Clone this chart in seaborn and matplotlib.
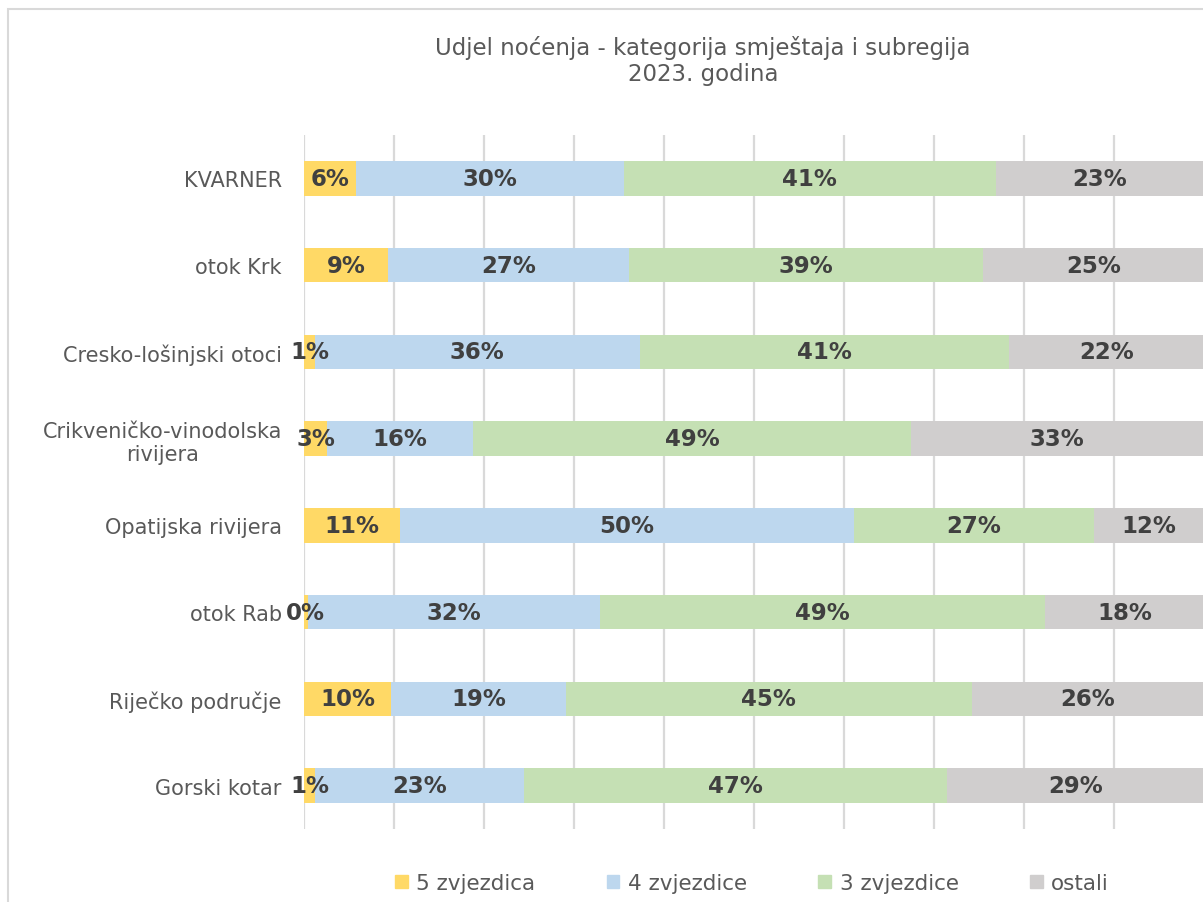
import numpy as np
import pandas as pd
import matplotlib
matplotlib.use("Agg")
import matplotlib.pyplot as plt
import matplotlib.patches as mpatches
import seaborn as sns

# -------------------------------
# Data (share of overnight stays, %)
# -------------------------------
regions = [
    "KVARNER",
    "otok Krk",
    "Cresko-lošinjski otoci",
    "Crikveničko-vinodolska\nrivijera",
    "Opatijska rivijera",
    "otok Rab",
    "Riječko područje",
    "Gorski kotar",
]
categories = ["5 zvjezdica", "4 zvjezdice", "3 zvjezdice", "ostali"]

five_star = [5.8, 9.3, 1.2, 2.6, 10.7, 0.4, 9.7, 1.2]
four_star = [29.7, 26.8, 36.1, 16.2, 50.4, 32.5, 19.4, 23.2]
three_star = [41.4, 39.3, 41.0, 48.6, 26.7, 49.4, 45.1, 47.0]
other = [23.1, 24.6, 21.7, 32.6, 12.2, 17.7, 25.8, 28.6]

colors = ["#FFD966", "#BDD7EE", "#C5E0B4", "#D0CECE"]

df = pd.DataFrame(
    {"region": regions, categories[0]: five_star, categories[1]: four_star,
     categories[2]: three_star, categories[3]: other}
)
cum = df[categories].cumsum(axis=1)

# -------------------------------
# Figure
# -------------------------------
sns.set_theme(style="white")
plt.rcParams["font.family"] = ["DejaVu Sans"]

W, H = 1203, 903
fig = plt.figure(figsize=(W / 100, H / 100), dpi=100)
ax = fig.add_axes([304 / W, 1 - 830 / H, 900 / W, 694 / H])

# stacked bars: draw cumulative totals from the back to the front
for cat, col in reversed(list(zip(categories, colors))):
    sns.barplot(x=cum[cat], y=df["region"], orient="h", color=col,
                width=0.4, saturation=1, linewidth=0, ax=ax, zorder=2)

# data labels
for i in range(len(regions)):
    left = 0
    for cat in categories:
        v = df.loc[i, cat]
        ax.text(left + v / 2, i, f"{v:.0f}%", ha="center", va="center",
                fontsize=16.5, fontweight="bold", color="#404040", zorder=5,
                clip_on=False)
        left += v

ax.set_xlim(0, 100)
ax.set_ylim(len(regions) - 0.5, -0.5)
ax.set_xticks(np.arange(0, 101, 10))
ax.set_xticklabels([])
ax.xaxis.grid(True, color="#D9D9D9", linewidth=1.6, zorder=0)
ax.set_axisbelow(True)
ax.set_xlabel("")
ax.set_ylabel("")
for s in ax.spines.values():
    s.set_visible(False)
ax.tick_params(axis="y", length=0, pad=16, labelsize=15, labelcolor="#595959")
ax.tick_params(axis="x", length=0)
for lbl in ax.get_yticklabels():
    lbl.set_multialignment("center")

# title
fig.text(703 / W, 1 - 61 / H, "Udjel noćenja - kategorija smještaja i subregija\n2023. godina",
         ha="center", va="center", fontsize=16.5, color="#595959", linespacing=1.2)

# legend
handles = [mpatches.Patch(color=c, label=l) for c, l in zip(colors, categories)]
fig.legend(handles=handles, loc="center", bbox_to_anchor=(752 / W, 1 - 884 / H),
           ncol=4, frameon=False, fontsize=15.5, labelcolor="#595959",
           handlelength=0.6, handleheight=0.6, handletextpad=0.4, columnspacing=3.3)

# chart frame
fig.patches.append(mpatches.Rectangle((8 / W, -0.1), 1.2, 1 - 10 / H + 0.1,
                                      transform=fig.transFigure, fill=False,
                                      edgecolor="#D9D9D9", linewidth=1.5))

fig.savefig("out.png", dpi=100)
